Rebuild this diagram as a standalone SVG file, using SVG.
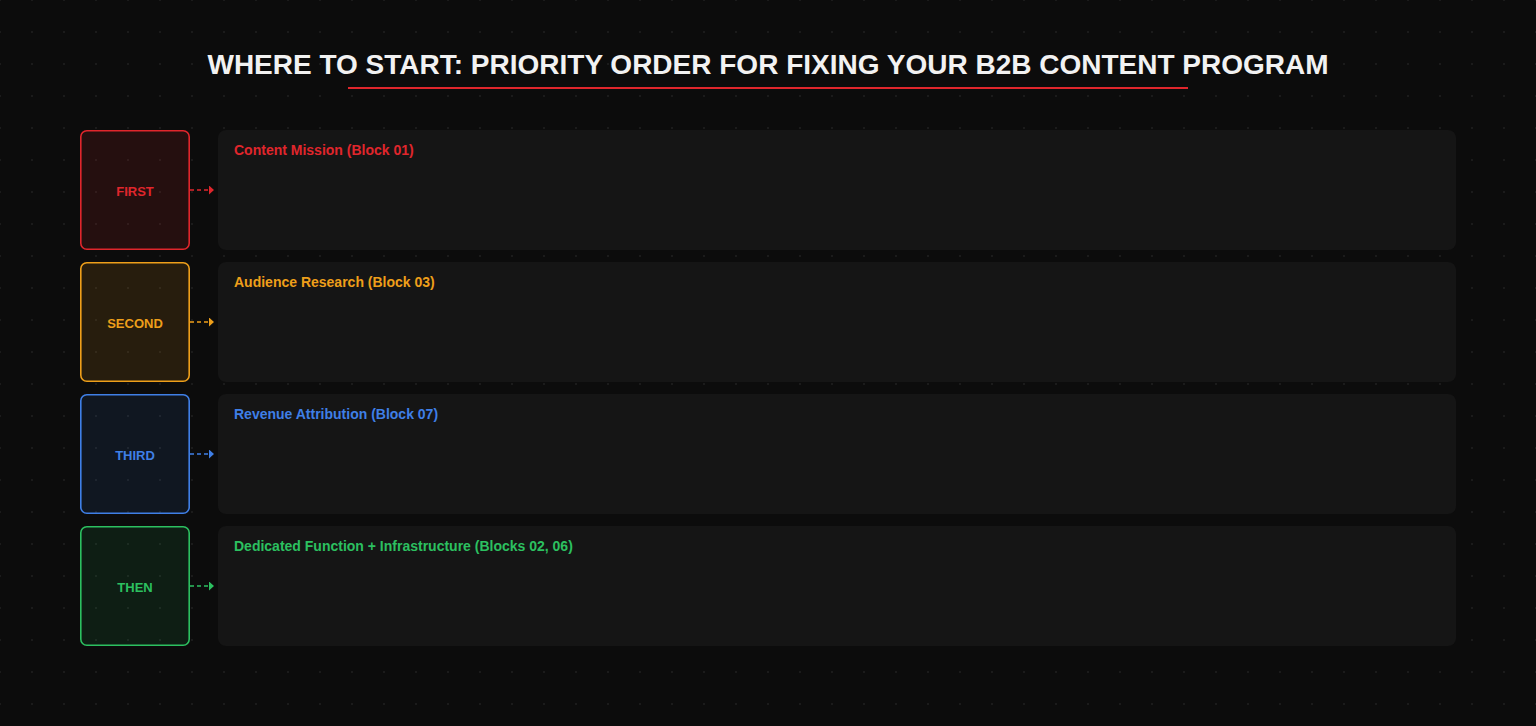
<svg xmlns="http://www.w3.org/2000/svg" width="1536" height="726" viewBox="0 0 1536 726">
<defs>
<pattern id="dots" x="0" y="0" width="32" height="32" patternUnits="userSpaceOnUse">
<rect x="-1" y="-1" width="2" height="2" fill="#1b1b1b"/>
<rect x="31" y="-1" width="2" height="2" fill="#1b1b1b"/>
<rect x="-1" y="31" width="2" height="2" fill="#1b1b1b"/>
<rect x="31" y="31" width="2" height="2" fill="#1b1b1b"/>
</pattern>
<marker id="ar-red" viewBox="0 0 5 9" refX="4" refY="4.5" markerWidth="5" markerHeight="9" markerUnits="userSpaceOnUse" orient="auto"><path d="M0,0 L5,4.5 L0,9 Z" fill="#e0262c"/></marker>
<marker id="ar-orange" viewBox="0 0 5 9" refX="4" refY="4.5" markerWidth="5" markerHeight="9" markerUnits="userSpaceOnUse" orient="auto"><path d="M0,0 L5,4.5 L0,9 Z" fill="#ee9f1a"/></marker>
<marker id="ar-blue" viewBox="0 0 5 9" refX="4" refY="4.5" markerWidth="5" markerHeight="9" markerUnits="userSpaceOnUse" orient="auto"><path d="M0,0 L5,4.5 L0,9 Z" fill="#3f7fe6"/></marker>
<marker id="ar-green" viewBox="0 0 5 9" refX="4" refY="4.5" markerWidth="5" markerHeight="9" markerUnits="userSpaceOnUse" orient="auto"><path d="M0,0 L5,4.5 L0,9 Z" fill="#2cc060"/></marker>
</defs>
<style>
text { font-family: "Liberation Sans", Arial, Helvetica, sans-serif; font-weight: bold; }
.title { font-size: 28px; fill: #f2f2f2; }
.nlabel { font-size: 13px; text-anchor: middle; }
.clabel { font-size: 14px; }
.card { fill: #151515; }
.node { stroke-width: 1.6; }
.conn { fill: none; stroke-width: 1.6; stroke-dasharray: 4 3; }
.red { fill: #e0262c; } .orange { fill: #ee9f1a; } .blue { fill: #3f7fe6; } .green { fill: #2cc060; }
</style>
<rect width="1536" height="726" fill="#0c0c0c"/>
<rect width="1536" height="726" fill="url(#dots)"/>

<g id="title">
<text class="title" x="768" y="74" text-anchor="middle">WHERE TO START: PRIORITY ORDER FOR FIXING YOUR B2B CONTENT PROGRAM</text>
<rect x="348" y="87" width="840" height="2" fill="#e0262c"/>
</g>

<g id="card-first">
<rect class="card" x="218" y="130" width="1238" height="120" rx="8"/>
<text class="clabel red" x="234" y="155">Content Mission (Block 01)</text>
</g>
<g id="card-second">
<rect class="card" x="218" y="262" width="1238" height="120" rx="8"/>
<text class="clabel orange" x="234" y="287">Audience Research (Block 03)</text>
</g>
<g id="card-third">
<rect class="card" x="218" y="394" width="1238" height="120" rx="8"/>
<text class="clabel blue" x="234" y="419">Revenue Attribution (Block 07)</text>
</g>
<g id="card-then">
<rect class="card" x="218" y="526" width="1238" height="120" rx="8"/>
<text class="clabel green" x="234" y="551">Dedicated Function + Infrastructure (Blocks 02, 06)</text>
</g>

<g id="node-first">
<rect class="node" x="80.8" y="130.8" width="108.4" height="118.4" rx="6" fill="#e0262c" fill-opacity="0.12" stroke="#e0262c"/>
<text class="nlabel red" x="135" y="196">FIRST</text>
</g>
<g id="node-second">
<rect class="node" x="80.8" y="262.8" width="108.4" height="118.4" rx="6" fill="#ee9f1a" fill-opacity="0.12" stroke="#ee9f1a"/>
<text class="nlabel orange" x="135" y="328">SECOND</text>
</g>
<g id="node-third">
<rect class="node" x="80.8" y="394.8" width="108.4" height="118.4" rx="6" fill="#3f7fe6" fill-opacity="0.1" stroke="#3f7fe6"/>
<text class="nlabel blue" x="135" y="460">THIRD</text>
</g>
<g id="node-then">
<rect class="node" x="80.8" y="526.8" width="108.4" height="118.4" rx="6" fill="#2cc060" fill-opacity="0.1" stroke="#2cc060"/>
<text class="nlabel green" x="135" y="592">THEN</text>
</g>

<g id="connectors">
<path class="conn" d="M190,190 L213,190" stroke="#e0262c" marker-end="url(#ar-red)"/>
<path class="conn" d="M190,322 L213,322" stroke="#ee9f1a" marker-end="url(#ar-orange)"/>
<path class="conn" d="M190,454 L213,454" stroke="#3f7fe6" marker-end="url(#ar-blue)"/>
<path class="conn" d="M190,586 L213,586" stroke="#2cc060" marker-end="url(#ar-green)"/>
</g>
</svg>
